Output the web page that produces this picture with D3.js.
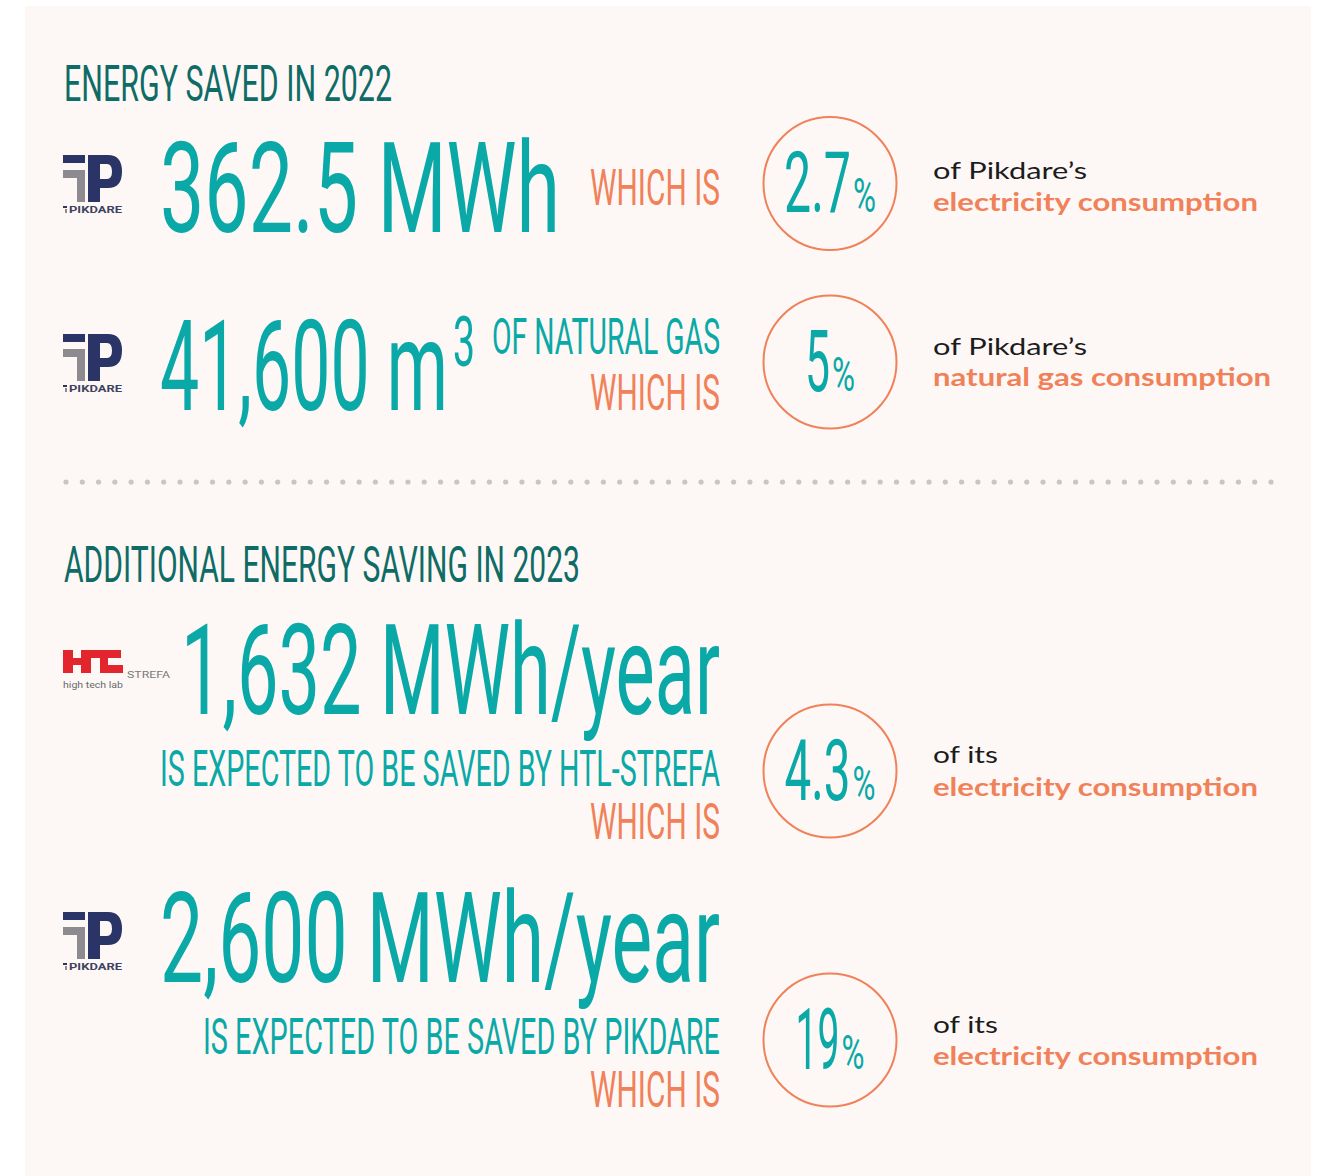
<!DOCTYPE html>
<html>
<head>
<meta charset="utf-8">
<script src="https://cdn.jsdelivr.net/npm/d3@7"></script>
<style>
  html, body { margin: 0; padding: 0; background: #ffffff; }
  svg { display: block; }
</style>
</head>
<body>
<svg id="chart" width="1319" height="1176"></svg>
<script>
// ---------- DATA ----------
const sectionTitles = ["ENERGY SAVED IN 2022", "ADDITIONAL ENERGY SAVING IN 2023"];
const amounts = ["362.5 MWh", "41,600 m", "1,632 MWh/year", "2,600 MWh/year"];
const amountSuperscripts = ["", "3", "", ""];
const subjects = ["", "OF NATURAL GAS", "IS EXPECTED TO BE SAVED BY HTL-STREFA", "IS EXPECTED TO BE SAVED BY PIKDARE"];
const connectorText = "WHICH IS";
const sharePercents = [2.7, 5, 4.3, 19];
const owners = ["of Pikdare’s", "of Pikdare’s", "of its", "of its"];
const consumptions = ["electricity consumption", "natural gas consumption", "electricity consumption", "electricity consumption"];
const companies = ["pikdare", "pikdare", "htl", "pikdare"];

// ---------- STYLE ----------
const C = {
  bg: "#fdf8f6",
  teal: "#0aa9a7",
  darkTeal: "#0f6b66",
  orange: "#f08159",
  black: "#1c1c1c",
  dots: "#c6c6c6",
  navy: "#2b3466",
  grey: "#8d8b8f",
  red: "#e3262d"
};
const CONDENSED = "Roboto, 'Liberation Sans', sans-serif";
const BODY = "Lato, 'Open Sans', sans-serif";
const CAP_R = 0.711;  // Roboto cap height ratio
const CAP_L = 0.717;  // Lato cap height ratio

// ---------- LAYOUT ----------
const rowLayout = [
  { logoY: 155, amtX: 160, amtBase: 232, amtW: 400,
    whichBase: 205, cy: 183.5, numW: 67, ownerBase: 179, consBase: 211, consW: 325, ownerW: 154 },
  { logoY: 334, amtX: 160, amtBase: 410, amtW: 288, supX: 453, supBase: 366, supW: 22,
    subX: 492, subBase: 354, subW: 228,
    whichBase: 410, cy: 362, numW: 25, ownerBase: 355, consBase: 386, consW: 338, ownerW: 154 },
  { logoY: 650, amtX: 181, amtBase: 714, amtW: 539, subX: 160, subBase: 786, subW: 560,
    whichBase: 839, cy: 771, numW: 66, ownerBase: 763, consBase: 796, consW: 325, ownerW: 65 },
  { logoY: 912, amtX: 160, amtBase: 982, amtW: 560, subX: 203, subBase: 1054, subW: 517,
    whichBase: 1107, cy: 1040, numW: 44, ownerBase: 1033, consBase: 1065, consW: 325, ownerW: 65 }
];

const svg = d3.select("#chart");

// background panel
svg.append("rect").attr("x", 25).attr("y", 6).attr("width", 1286).attr("height", 1180)
  .attr("fill", C.bg);

function txt(g, str, o) {
  const fs = o.cap / (o.ratio || CAP_R);
  const t = g.append("text")
    .attr("x", o.x).attr("y", o.base)
    .attr("font-family", o.family || CONDENSED)
    .attr("font-weight", o.weight || 400)
    .attr("font-size", fs.toFixed(2))
    .attr("fill", o.fill)
    .text(str);
  if (o.w) t.attr("textLength", o.w).attr("lengthAdjust", "spacingAndGlyphs");
  return t;
}

// ---------- TITLES ----------
txt(svg, sectionTitles[0], { x: 64, base: 101, cap: 35, w: 328, fill: C.darkTeal });
txt(svg, sectionTitles[1], { x: 64, base: 582, cap: 36, w: 516, fill: C.darkTeal });

// ---------- DOTTED DIVIDER ----------
const dotScale = d3.scaleLinear().domain([0, 74]).range([66, 1271]);
svg.append("g").selectAll("circle").data(d3.range(75)).join("circle")
  .attr("cx", d => dotScale(d)).attr("cy", 482).attr("r", 2.6).attr("fill", C.dots);

// ---------- LOGOS ----------
function pikdareLogo(g, x, y) {
  const l = g.append("g").attr("transform", `translate(${x},${y})`);
  l.append("rect").attr("x", 0).attr("y", 0).attr("width", 22).attr("height", 8).attr("fill", C.navy);
  l.append("rect").attr("x", 0).attr("y", 15).attr("width", 22).attr("height", 8).attr("fill", C.grey);
  l.append("rect").attr("x", 14).attr("y", 15).attr("width", 8).attr("height", 32).attr("fill", C.grey);
  l.append("path")
    .attr("d", "M25,0 H45 Q59,0 59,16.5 Q59,33 45,33 H37 V47 H25 Z M37,9 V24 H44 Q49,24 49,16.5 Q49,9 44,9 Z")
    .attr("fill-rule", "evenodd").attr("fill", C.navy);
  l.append("rect").attr("x", 0).attr("y", 51).attr("width", 4).attr("height", 2).attr("fill", C.navy);
  l.append("rect").attr("x", 2).attr("y", 54).attr("width", 2).attr("height", 4).attr("fill", C.grey);
  txt(l, "PIKDARE", { x: 6, base: 58, cap: 7, w: 53, fill: "#3d4360", weight: 700 });
}
function htlLogo(g, x, y) {
  const l = g.append("g").attr("transform", `translate(${x},${y})`).attr("fill", C.red);
  l.append("rect").attr("x", 0).attr("y", 0).attr("width", 10).attr("height", 23);
  l.append("rect").attr("x", 10).attr("y", 8).attr("width", 8).attr("height", 7);
  l.append("rect").attr("x", 18).attr("y", 0).attr("width", 10).attr("height", 23);
  l.append("rect").attr("x", 28).attr("y", 0).attr("width", 30).attr("height", 8);
  l.append("rect").attr("x", 37).attr("y", 8).attr("width", 8).attr("height", 15);
  l.append("rect").attr("x", 45).attr("y", 15).attr("width", 15).attr("height", 8);
  txt(l, "STREFA", { x: 64, base: 28, cap: 7, w: 43, fill: "#7a7a7a", weight: 400 });
  txt(l, "high tech lab", { x: 0, base: 38, cap: 6, w: 60, fill: "#6a6a6a", weight: 400 });
}

// ---------- ROWS ----------
const fmtPct = d => String(d);
rowLayout.forEach((L, i) => {
  const g = svg.append("g").attr("class", "row");
  if (companies[i] === "htl") htlLogo(g, 63, L.logoY); else pikdareLogo(g, 63, L.logoY);

  // big amount
  txt(g, amounts[i], { x: L.amtX, base: L.amtBase, cap: 90, w: L.amtW, fill: C.teal });
  if (amountSuperscripts[i]) {
    txt(g, amountSuperscripts[i], { x: L.supX, base: L.supBase, cap: 50, w: L.supW, fill: C.teal });
  }
  if (subjects[i]) {
    txt(g, subjects[i], { x: L.subX, base: L.subBase, cap: 36, w: L.subW, fill: C.teal });
  }
  txt(g, connectorText, { x: 590, base: L.whichBase, cap: 36, w: 130, fill: C.orange });

  // circle with percent
  const cx = 830;
  g.append("circle").attr("cx", cx).attr("cy", L.cy).attr("r", 66.5)
    .attr("fill", "none").attr("stroke", C.orange).attr("stroke-width", 2);
  const pctW = 23, gap = 2;
  const total = L.numW + gap + pctW;
  const sx = cx - total / 2;
  const base = L.cy + 28.5;
  txt(g, fmtPct(sharePercents[i]), { x: sx, base: base, cap: 60, w: L.numW, fill: C.teal });
  txt(g, "%", { x: sx + L.numW + gap, base: base, cap: 34, w: pctW, fill: C.teal });

  // right-hand description
  txt(g, owners[i], { x: 933, base: L.ownerBase, cap: 17, w: L.ownerW, fill: C.black,
    family: BODY, ratio: CAP_L, weight: 400 });
  txt(g, consumptions[i], { x: 933, base: L.consBase, cap: 17.5, w: L.consW, fill: C.orange,
    family: BODY, ratio: CAP_L, weight: 700 });
});
</script>
</body>
</html>
